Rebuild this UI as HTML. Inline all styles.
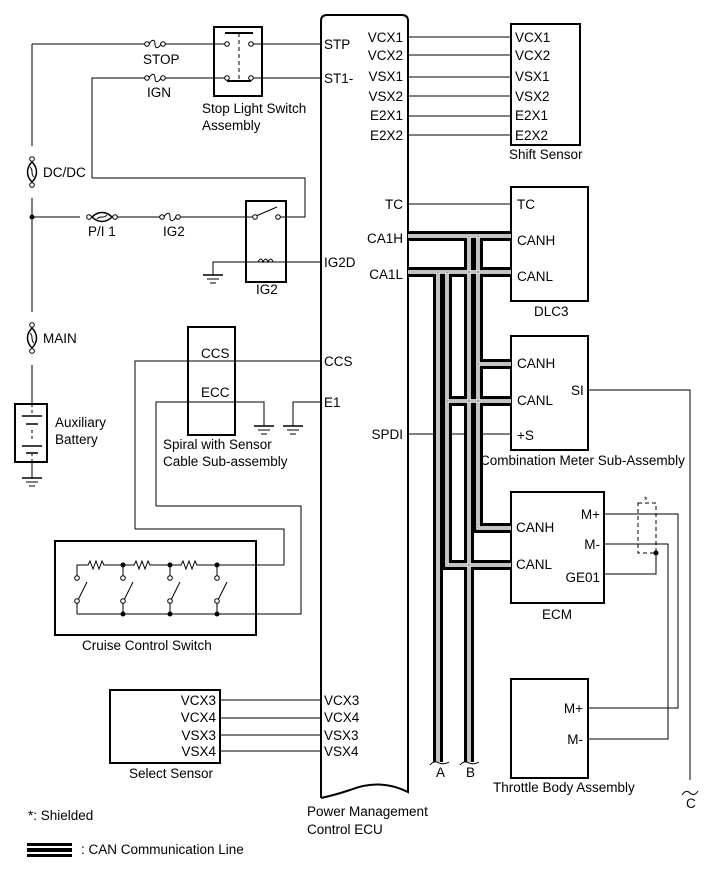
<!DOCTYPE html>
<html><head><meta charset="utf-8"><style>
html,body{margin:0;padding:0;background:#fff}
svg{display:block}
text{font-family:"Liberation Sans",Arial,sans-serif;font-size:13.5px;fill:#000}
</style></head><body>
<svg width="713" height="882" viewBox="0 0 713 882" xmlns="http://www.w3.org/2000/svg">
<defs>
<g id="fuse"><circle cx="-8" cy="0" r="2.3" fill="#fff" stroke="#000"/><circle cx="8" cy="0" r="2.3" fill="#fff" stroke="#000"/><path d="M-6,0 C-3,-5 0,-5 0,0 C0,5 3,5 6,0" fill="none" stroke="#000"/></g>
<g id="gnd"><line x1="-10" y1="0" x2="10" y2="0" stroke="#000" stroke-width="1.5"/><line x1="-6" y1="4" x2="6" y2="4" stroke="#000"/><line x1="-3" y1="8" x2="3" y2="8" stroke="#000"/></g>
<g id="ffuse"><circle cx="0" cy="-13" r="2.3" fill="#fff" stroke="#000"/><circle cx="0" cy="13" r="2.3" fill="#fff" stroke="#000"/><path d="M0,-10 C-6,-4 -6,4 0,10 C6,4 6,-4 0,-10 Z" fill="#fff" stroke="#000" stroke-width="1.5"/><path d="M-2,-5 C2,-2 -2,2 2,5" fill="none" stroke="#000"/></g>
</defs>
<g fill="none" stroke="#000" stroke-width="1">
<path d="M321,798 V21 Q321,15 327,15 H402 Q408,15 408,21 V792 Q380,778 350,790 Q335,795 321,798" stroke-width="2"/>
<path d="M32,44 V146 M32,198 V312 M32,365 V404 M32,462 V478"/>
<path d="M32,44 H147 M163,44 H227 M251,44 H321"/>
<path d="M92,178 V78 H147 M163,78 H227 M251,78 H321"/>
<path d="M92,178 H305 V217 H280"/>
<path d="M32,217 H80 M96,217 H162 M178,217 H254"/>
<path d="M213,275 V262 H321"/>
<rect x="214" y="27" width="48" height="69" stroke-width="2"/>
<path d="M225,33 H253" stroke-width="2"/>
<path d="M239,33 V81" stroke-dasharray="4,3"/>
<path d="M227,81 H251" stroke-width="2"/>
<rect x="246" y="201" width="40" height="81" stroke-width="2"/>
<path d="M256,216 L277,207"/>
<path d="M258,262 q3,-6 5,0 q3,-6 5,0 q3,-6 5,0"/>
<rect x="15" y="404" width="32" height="58" stroke-width="2"/>
<path d="M22,416 H42 M26,424 H38 M22,446 H42 M26,453 H38" stroke-width="1.5"/>
<path d="M32,404 V416 M32,430 V440 M32,453 V462" stroke-dasharray="3,3"/>
<rect x="188" y="327" width="47" height="108" stroke-width="2"/>
<path d="M135,529 V361 H321"/>
<path d="M156,506 V402 H264 V426"/>
<path d="M293,426 V402 H321"/>
<path d="M135,529 H284 V565"/>
<path d="M156,506 H301 V614 H77"/>
<rect x="55" y="541" width="201" height="94" stroke-width="2"/>
<path d="M77,578 V565 H88 l2,-4 3,8 3,-8 3,8 3,-8 2,4 H123 M123,565 H134 l2,-4 3,8 3,-8 3,8 3,-8 2,4 H170 M170,565 H181 l2,-4 3,8 3,-8 3,8 3,-8 2,4 H284"/>
<path d="M77,601 V614 M123,565 V576 M123,603 V614 M170,565 V576 M170,603 V614 M217,565 V576 M217,603 V614"/>
<path d="M78,600 L87,582 M124,600 L133,582 M171,600 L180,582 M218,600 L227,582"/>
<rect x="110" y="690" width="110" height="73" stroke-width="2"/>
<path d="M220,700 H321 M220,718 H321 M220,735 H321 M220,751 H321"/>
<rect x="511" y="24" width="69" height="121" stroke-width="2"/>
<path d="M408,37 H511 M408,55 H511 M408,77 H511 M408,96 H511 M408,116 H511 M408,135 H511"/>
<rect x="511" y="187" width="77" height="114" stroke-width="2"/>
<path d="M408,204 H511"/>
<rect x="511" y="336" width="77" height="114" stroke-width="2"/>
<path d="M408,434 H511"/>
<path d="M588,390 H690 V780"/>
<path d="M682,795 q4,-6 8,-2 q4,4 8,-2"/>
<rect x="511" y="492" width="93" height="111" stroke-width="2"/>
<path d="M604,514 H678 V708 H588"/>
<path d="M604,544 H668 V739 H588"/>
<path d="M604,574 H656 V553"/>
<path d="M638,503 H656 V553 H638 Z" stroke-dasharray="4,3"/>
<rect x="511" y="679" width="77" height="99" stroke-width="2"/>
</g>
<g fill="none">
<g id="canp">
<path d="M408,236 H511 M469,236 V762 M478,236 V528 H511 M478,364 H511"/>
<path d="M408,272 H511 M438,272 V762 M447,272 V565 H511 M447,401 H511"/>
</g>
</g>
<use href="#canp" stroke="#000" stroke-width="10" fill="none"/>
<use href="#canp" stroke="#fff" stroke-width="3.5" fill="none"/>
<use href="#canp" stroke="#888" stroke-width="1" fill="none"/>
<path d="M430,765 q4,-5 9,-2 q5,2 10,-1 M460,765 q4,-5 9,-2 q5,2 10,-1" fill="none" stroke="#000"/>
<use href="#fuse" x="155" y="44"/>
<use href="#fuse" x="155" y="78"/>
<use href="#fuse" x="170" y="217"/>
<g transform="translate(102,217) rotate(90)"><use href="#ffuse"/></g>
<use href="#ffuse" x="32" y="172"/>
<use href="#ffuse" x="32" y="338"/>
<g fill="#fff" stroke="#000">
<circle cx="227" cy="44" r="2.3"/><circle cx="251" cy="44" r="2.3"/><circle cx="227" cy="78" r="2.3"/><circle cx="251" cy="78" r="2.3"/>
<circle cx="255" cy="217" r="2.3"/><circle cx="278" cy="217" r="2.3"/>
<circle cx="77" cy="578" r="2.3"/><circle cx="77" cy="601" r="2.3"/>
<circle cx="123" cy="578" r="2.3"/><circle cx="123" cy="601" r="2.3"/>
<circle cx="170" cy="578" r="2.3"/><circle cx="170" cy="601" r="2.3"/>
<circle cx="217" cy="578" r="2.3"/><circle cx="217" cy="601" r="2.3"/>
</g>
<g fill="#000">
<circle cx="32" cy="217" r="2.5"/>
<circle cx="123" cy="565" r="2.5"/><circle cx="170" cy="565" r="2.5"/><circle cx="217" cy="565" r="2.5"/>
<circle cx="123" cy="614" r="2.5"/><circle cx="170" cy="614" r="2.5"/><circle cx="217" cy="614" r="2.5"/>
<circle cx="656" cy="553" r="2.5"/>
</g>
<use href="#gnd" x="213" y="275"/>
<use href="#gnd" x="264" y="426"/>
<use href="#gnd" x="293" y="426"/>
<use href="#gnd" x="32" y="478"/>
<rect x="27" y="843" width="45" height="14" fill="#000"/>
<rect x="27" y="846" width="45" height="2" fill="#fff"/>
<rect x="27" y="852" width="45" height="2" fill="#fff"/>
<text x="143" y="64">STOP</text>
<text x="147" y="97">IGN</text>
<text x="202" y="113">Stop Light Switch</text>
<text x="202" y="130">Assembly</text>
<text x="43" y="177">DC/DC</text>
<text x="88" y="236">P/I 1</text>
<text x="163" y="236">IG2</text>
<text x="256" y="294">IG2</text>
<text x="43" y="343">MAIN</text>
<text x="55" y="427">Auxiliary</text>
<text x="55" y="444">Battery</text>
<text x="201" y="358">CCS</text>
<text x="201" y="397">ECC</text>
<text x="163" y="449">Spiral with Sensor</text>
<text x="163" y="466">Cable Sub-assembly</text>
<text x="82" y="650">Cruise Control Switch</text>
<text x="216" y="705" text-anchor="end">VCX3</text>
<text x="216" y="722" text-anchor="end">VCX4</text>
<text x="216" y="740" text-anchor="end">VSX3</text>
<text x="216" y="756" text-anchor="end">VSX4</text>
<text x="129" y="778">Select Sensor</text>
<text x="28" y="820">*: Shielded</text>
<text x="81" y="854">: CAN Communication Line</text>
<text x="307" y="816">Power Management</text>
<text x="307" y="834">Control ECU</text>
<text x="324" y="49">STP</text>
<text x="324" y="83">ST1-</text>
<text x="324" y="267">IG2D</text>
<text x="324" y="366">CCS</text>
<text x="324" y="407">E1</text>
<text x="324" y="705">VCX3</text>
<text x="324" y="722">VCX4</text>
<text x="324" y="740">VSX3</text>
<text x="324" y="756">VSX4</text>
<text x="403" y="42" text-anchor="end">VCX1</text>
<text x="403" y="60" text-anchor="end">VCX2</text>
<text x="403" y="81" text-anchor="end">VSX1</text>
<text x="403" y="101" text-anchor="end">VSX2</text>
<text x="403" y="120" text-anchor="end">E2X1</text>
<text x="403" y="140" text-anchor="end">E2X2</text>
<text x="403" y="209" text-anchor="end">TC</text>
<text x="403" y="243" text-anchor="end">CA1H</text>
<text x="403" y="279" text-anchor="end">CA1L</text>
<text x="403" y="439" text-anchor="end">SPDI</text>
<text x="515" y="42">VCX1</text>
<text x="515" y="60">VCX2</text>
<text x="515" y="81">VSX1</text>
<text x="515" y="101">VSX2</text>
<text x="515" y="120">E2X1</text>
<text x="515" y="140">E2X2</text>
<text x="509" y="159">Shift Sensor</text>
<text x="517" y="209">TC</text>
<text x="517" y="245">CANH</text>
<text x="517" y="281">CANL</text>
<text x="534" y="316">DLC3</text>
<text x="517" y="368">CANH</text>
<text x="517" y="405">CANL</text>
<text x="517" y="440">+S</text>
<text x="571" y="395">SI</text>
<text x="480" y="465">Combination Meter Sub-Assembly</text>
<text x="516" y="532">CANH</text>
<text x="516" y="569">CANL</text>
<text x="600" y="519" text-anchor="end">M+</text>
<text x="600" y="549" text-anchor="end">M-</text>
<text x="600" y="582" text-anchor="end">GE01</text>
<text x="542" y="619">ECM</text>
<text x="583" y="713" text-anchor="end">M+</text>
<text x="583" y="744" text-anchor="end">M-</text>
<text x="493" y="792">Throttle Body Assembly</text>
<text x="644" y="503" style="font-size:9px">*</text>
<text x="436" y="777">A</text>
<text x="466" y="777">B</text>
<text x="686" y="808">C</text>
</svg>
</body></html>
